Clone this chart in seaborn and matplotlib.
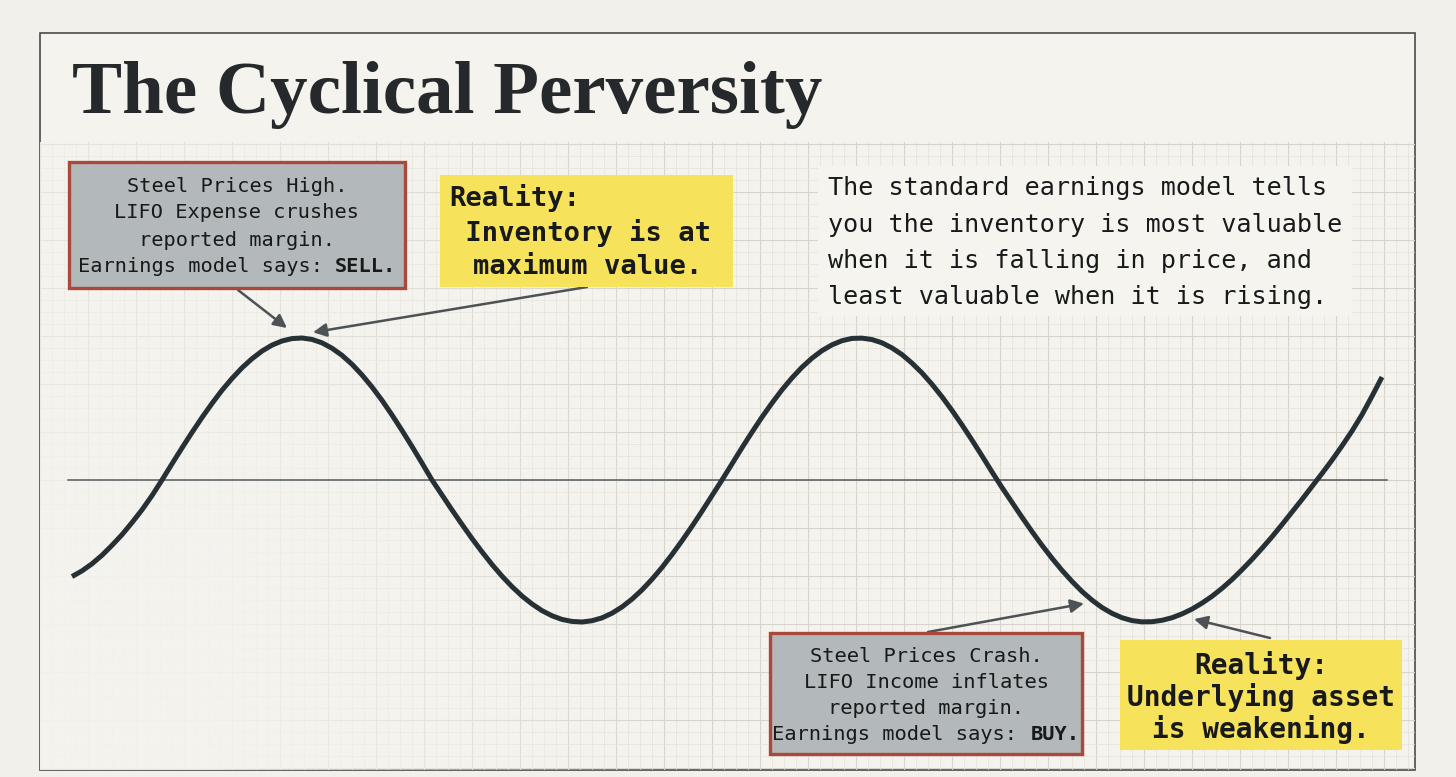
import numpy as np
import pandas as pd
import matplotlib
matplotlib.use('Agg')
import matplotlib.pyplot as plt
import seaborn as sns
from matplotlib.patches import Rectangle
from matplotlib.ticker import MultipleLocator
from matplotlib.colors import to_rgb

# ---- DATI: ciclo del prezzo dell'acciaio (t = passo temporale, p = prezzo normalizzato) ----
t = list(range(132))
price = [-0.680, -0.640, -0.590, -0.530, -0.460, -0.385, -0.300, -0.210, -0.110, 0.000,
         0.114, 0.226, 0.335, 0.440, 0.539, 0.632, 0.715, 0.790, 0.854, 0.908,
         0.950, 0.979, 0.996, 1.000, 0.990, 0.966, 0.928, 0.878, 0.815, 0.740,
         0.655, 0.561, 0.458, 0.349, 0.236, 0.119, 0.000, -0.106, -0.211, -0.313,
         -0.412, -0.506, -0.595, -0.677, -0.751, -0.817, -0.873, -0.920, -0.956, -0.982,
         -0.996, -1.000, -0.991, -0.971, -0.938, -0.894, -0.839, -0.774, -0.699, -0.616,
         -0.525, -0.428, -0.326, -0.220, -0.110, 0.000, 0.114, 0.227, 0.337, 0.443,
         0.542, 0.635, 0.719, 0.794, 0.858, 0.911, 0.952, 0.981, 0.997, 0.999,
         0.989, 0.966, 0.930, 0.883, 0.823, 0.754, 0.674, 0.586, 0.490, 0.388,
         0.281, 0.170, 0.057, -0.053, -0.158, -0.262, -0.363, -0.460, -0.551, -0.636,
         -0.714, -0.785, -0.846, -0.898, -0.939, -0.970, -0.990, -0.999, -0.998, -0.988,
         -0.970, -0.943, -0.909, -0.867, -0.819, -0.763, -0.701, -0.632, -0.559, -0.481,
         -0.400, -0.314, -0.226, -0.137, -0.046, 0.046, 0.140, 0.240, 0.345, 0.460,
         0.590, 0.725]

title = "The Cyclical Perversity"
box_high = ["Steel Prices High.", "LIFO Expense crushes", "reported margin."]
box_high_last = ("Earnings model says: ", "SELL.")
reality_top = ["Reality:", " Inventory is at", "maximum value."]
note_lines = ["The standard earnings model tells",
              "you the inventory is most valuable",
              "when it is falling in price, and",
              "least valuable when it is rising."]
box_crash = ["Steel Prices Crash.", "LIFO Income inflates", "reported margin."]
box_crash_last = ("Earnings model says: ", "BUY.")
reality_bottom = ["Reality:", "Underlying asset", "is weakening."]

df = pd.DataFrame({'t': t, 'price': price})

# ---- FIGURA ----
W, H = 1456, 777
fig = plt.figure(figsize=(W / 100, H / 100), dpi=100)
fig.patch.set_facecolor('#f1f0ea')

def fx(px):
    return px / W

def fy(py):
    return 1 - py / H

mono = 'DejaVu Sans Mono'
ink = '#18191a'
arrow_col = '#4d5255'
paper = '#f4f3ee'

# cornice
L, R, T, B = 40, 1415, 33, 770
fig.patches.append(Rectangle((fx(L), fy(B)), fx(R) - fx(L), fy(T) - fy(B),
                             transform=fig.transFigure, facecolor=paper,
                             edgecolor='#4a4a4a', linewidth=1.2, zorder=-5))

# ---- CARTA MILLIMETRATA ----
gtop = 142
axg = fig.add_axes([fx(L), fy(B), fx(R) - fx(L), fy(gtop) - fy(B)])
axg.set_facecolor('none')
gx1, gy0, gy1 = (R - L) / 12, -(290 - 288) / 12, 24 + (480 - gtop) / 12
axg.set_xlim(0, gx1)
axg.set_ylim(gy0, gy1)
axg.set_axisbelow(True)
axg.xaxis.set_major_locator(MultipleLocator(4))
axg.xaxis.set_minor_locator(MultipleLocator(1))
axg.yaxis.set_major_locator(MultipleLocator(4))
axg.yaxis.set_minor_locator(MultipleLocator(1))
axg.grid(which='minor', color='#e3e1d9', linewidth=0.5)
axg.grid(which='major', color='#d7d4cb', linewidth=0.8)
axg.tick_params(which='both', length=0, labelbottom=False, labelleft=False)
for s in axg.spines.values():
    s.set_visible(False)

# sfumatura: la griglia svanisce verso sinistra e in basso a sinistra
gx = np.linspace(L, R, 300)
gy = np.linspace(gtop, B, 150)
XX, YY = np.meshgrid(gx, gy)
fade = np.clip((680 - XX) / 520, 0, 0.92) * (0.55 + 0.45 * np.clip((YY - 300) / 250, 0, 1))
overlay = np.zeros(XX.shape + (4,))
overlay[..., :3] = to_rgb(paper)
overlay[..., 3] = fade
axg.imshow(overlay, extent=(0, gx1, gy0, gy1), origin='upper', aspect='auto',
           interpolation='bilinear', zorder=1)

# ---- CURVA ----
ax = fig.add_axes([fx(L), fy(B), fx(R) - fx(L), fy(T) - fy(B)])
ax.set_facecolor('none')
sns.lineplot(data=df, x='t', y='price', color='#263035', linewidth=3.6,
             ax=ax, zorder=3, solid_capstyle='butt', solid_joinstyle='round')
ax.set_xlim((L - 72) / 10, (R - 72) / 10)
ax.set_ylim((480 - B) / 142, (480 - T) / 142)
ax.axhline(0, xmin=(68 - L) / (R - L), xmax=(1387 - L) / (R - L),
           color='#555a5c', linewidth=1.1, zorder=2)
ax.set_xticks([])
ax.set_yticks([])
ax.set_xlabel('')
ax.set_ylabel('')
for s in ax.spines.values():
    s.set_visible(False)

# ---- TITOLO ----
fig.text(fx(72), fy(113), title, fontsize=54, fontweight='bold',
         family='Liberation Serif', color='#25292b', va='baseline', ha='left')

def box(x0, y0, x1, y1, face, edge=None, lw=0):
    fig.patches.append(Rectangle((fx(x0), fy(y1)), fx(x1) - fx(x0), fy(y0) - fy(y1),
                                 transform=fig.transFigure, facecolor=face,
                                 edgecolor=edge if edge else 'none',
                                 linewidth=lw, zorder=4))

def lines_centered(lines, cx, ys, size, weight='normal'):
    for s, y in zip(lines, ys):
        fig.text(fx(cx), fy(y), s, fontsize=size, family=mono, fontweight=weight,
                 color=ink, ha='center', va='center', zorder=5)

def split_line(parts, cx, y, size):
    cw = size / 72 * 100 * 0.602
    n = len(parts[0]) + len(parts[1])
    x0 = cx - n * cw / 2
    fig.text(fx(x0), fy(y), parts[0], fontsize=size, family=mono, color=ink,
             ha='left', va='center', zorder=5)
    fig.text(fx(x0 + len(parts[0]) * cw), fy(y), parts[1], fontsize=size, family=mono,
             fontweight='bold', color=ink, ha='left', va='center', zorder=5)

# box grigio in alto
box(69, 162, 405, 288, '#b3b8ba', '#a9483b', 2.4)
lines_centered(box_high, 237, [186, 213, 240], 14.6)
split_line(box_high_last, 237, 267, 14.6)

# box giallo in alto
box(440, 175, 733, 287, '#f7e25c')
for s, x, y in zip(reality_top, [449, 449, 473], [198, 233, 267]):
    fig.text(fx(x), fy(y), s, fontsize=19.5, family=mono, fontweight='bold',
             color=ink, ha='left', va='center', zorder=5)

# nota a destra
box(818, 166, 1352, 316, '#f5f4ef')
for s, y in zip(note_lines, [188, 225, 261, 297]):
    fig.text(fx(828), fy(y), s, fontsize=18.1, family=mono, color=ink,
             ha='left', va='center', zorder=5)

# box grigio in basso
box(770, 633, 1082, 754, '#b3b8ba', '#a9483b', 2.4)
lines_centered(box_crash, 926, [657, 683, 708], 14.7)
split_line(box_crash_last, 926, 734, 14.7)

# box giallo in basso
box(1120, 640, 1402, 750, '#f7e25c')
lines_centered(reality_bottom, 1261, [665, 697, 729], 20, weight='bold')

# ---- FRECCE (punta sulla curva, in coordinate dati) ----
arrows = [((238, 290), (21.5, 1.07)),
          ((587, 287), (24.1, 1.04)),
          ((928, 632), (101.2, -0.87)),
          ((1270, 638), (112.2, -0.98))]
for (sx, sy), (tx, ty) in arrows:
    ax.annotate('', xy=(tx, ty), xycoords='data',
                xytext=(fx(sx), fy(sy)), textcoords='figure fraction',
                arrowprops=dict(arrowstyle='-|>', color=arrow_col, lw=1.8,
                                mutation_scale=20, shrinkA=0, shrinkB=0),
                zorder=6)

fig.savefig('out.png', dpi=100, facecolor=fig.get_facecolor())
